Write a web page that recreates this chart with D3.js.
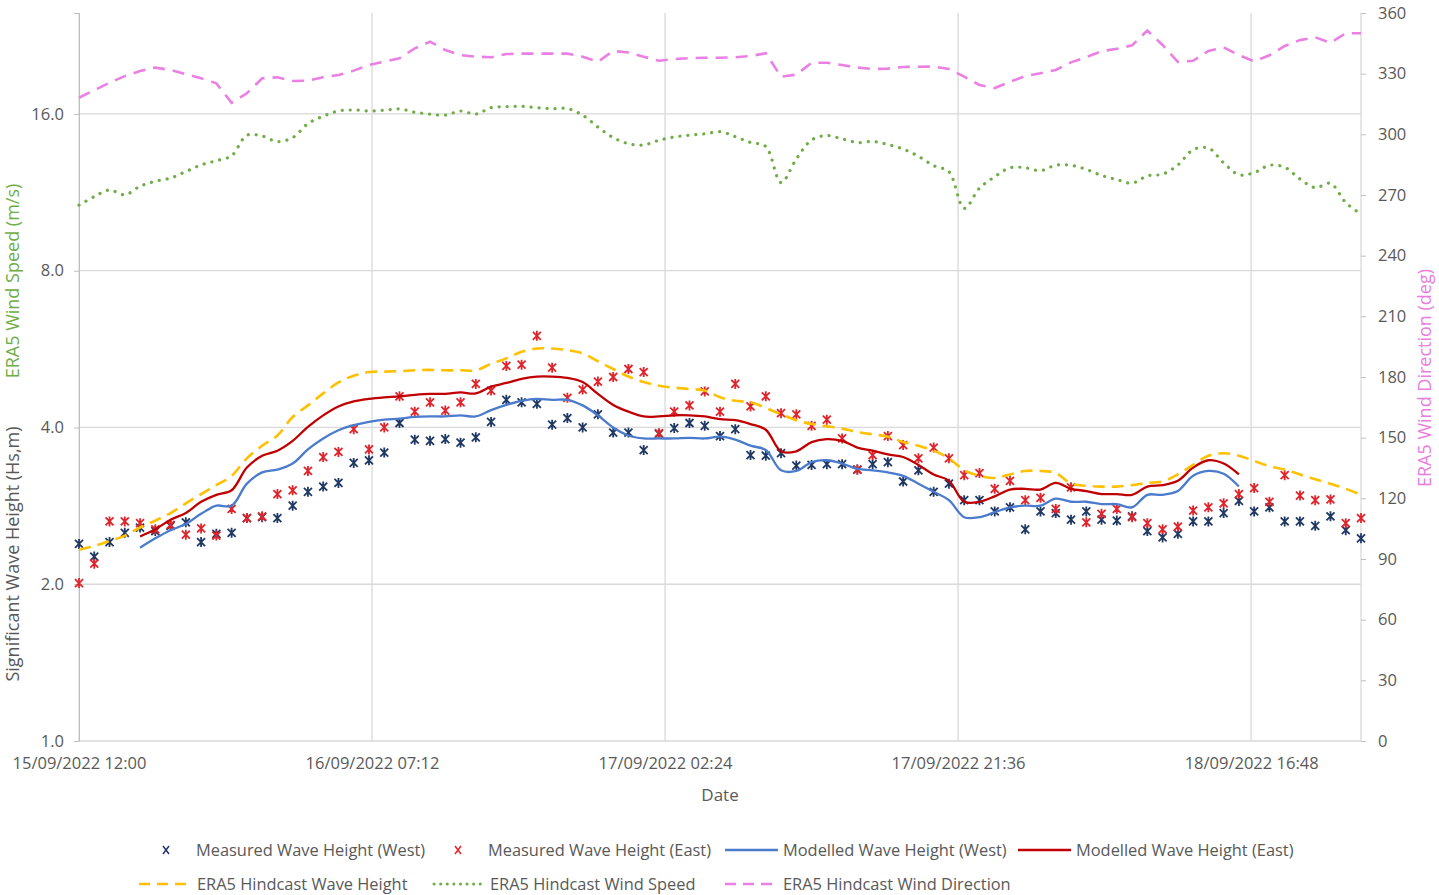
<!DOCTYPE html>
<html>
<head>
<meta charset="utf-8">
<script src="https://cdn.jsdelivr.net/npm/d3@7"></script>
<style>
  html, body { margin: 0; padding: 0; background: #ffffff; }
  svg { display: block; font-family: "Open Sans", "Noto Sans", sans-serif; }
</style>
</head>
<body>
<svg id="chart" width="1439" height="895"></svg>
<script>
// Hourly series, 15/09/2022 12:00 to 19/09/2022 00:00 (85 values each)
const startTime = "2022-09-15T12:00:00";
const endTime = "2022-09-19T00:00:00";

const measuredWest = [
  2.39, 2.26, 2.41, 2.51, 2.57, 2.53, 2.59, 2.63, 2.41, 2.50,
  2.51, 2.68, 2.69, 2.68, 2.83, 3.01, 3.08, 3.13, 3.42, 3.46,
  3.58, 4.08, 3.79, 3.77, 3.80, 3.74, 3.83, 4.10, 4.52, 4.47,
  4.44, 4.05, 4.17, 4.00, 4.24, 3.91, 3.91, 3.62, 3.89, 3.99,
  4.08, 4.03, 3.85, 3.97, 3.54, 3.53, 3.57, 3.38, 3.39, 3.40,
  3.40, 3.32, 3.40, 3.43, 3.15, 3.31, 3.01, 3.12, 2.90, 2.90,
  2.76, 2.81, 2.55, 2.76, 2.74, 2.66, 2.76, 2.66, 2.65, 2.70,
  2.53, 2.46, 2.50, 2.64, 2.64, 2.74, 2.89, 2.76, 2.81, 2.64,
  2.64, 2.59, 2.70, 2.54, 2.45
];

const measuredEast = [
  2.01, 2.19, 2.64, 2.64, 2.62, 2.55, 2.60, 2.49, 2.56, 2.48,
  2.79, 2.68, 2.70, 2.98, 3.03, 3.30, 3.51, 3.59, 3.97, 3.63,
  4.00, 4.59, 4.29, 4.47, 4.31, 4.47, 4.85, 4.71, 5.25, 5.28,
  6.00, 5.21, 4.56, 4.73, 4.90, 5.00, 5.18, 5.11, 3.90, 4.29,
  4.41, 4.69, 4.29, 4.85, 4.39, 4.59, 4.26, 4.24, 4.03, 4.14,
  3.81, 3.32, 3.54, 3.85, 3.70, 3.49, 3.66, 3.49, 3.24, 3.27,
  3.05, 3.16, 2.90, 2.93, 2.79, 3.07, 2.63, 2.73, 2.79, 2.69,
  2.62, 2.55, 2.58, 2.77, 2.81, 2.86, 2.98, 3.06, 2.88, 3.24,
  2.96, 2.90, 2.91, 2.62, 2.68
];

const modelledWest = [
  null, null, null, null, 2.35, 2.45, 2.54, 2.61, 2.73, 2.83,
  2.83, 3.12, 3.28, 3.32, 3.41, 3.63, 3.81, 3.95, 4.04, 4.10,
  4.14, 4.16, 4.19, 4.20, 4.20, 4.22, 4.20, 4.32, 4.42, 4.50,
  4.54, 4.52, 4.52, 4.41, 4.22, 4.00, 3.86, 3.81, 3.81, 3.81,
  3.82, 3.81, 3.84, 3.79, 3.69, 3.62, 3.31, 3.30, 3.43, 3.46,
  3.41, 3.33, 3.31, 3.28, 3.23, 3.12, 3.01, 2.90, 2.69, 2.69,
  2.75, 2.81, 2.83, 2.83, 2.92, 2.88, 2.88, 2.85, 2.85, 2.81,
  2.97, 2.97, 3.02, 3.23, 3.30, 3.26, 3.08, null, null, null,
  null, null, null, null, null
];

const modelledEast = [
  null, null, null, null, 2.47, 2.55, 2.66, 2.74, 2.88, 2.97,
  3.03, 3.35, 3.53, 3.61, 3.77, 4.01, 4.22, 4.39, 4.49, 4.54,
  4.57, 4.59, 4.62, 4.64, 4.64, 4.67, 4.65, 4.79, 4.87, 4.96,
  5.01, 5.01, 4.98, 4.89, 4.64, 4.42, 4.29, 4.20, 4.20, 4.22,
  4.22, 4.20, 4.15, 4.13, 4.06, 3.96, 3.60, 3.60, 3.75, 3.80,
  3.77, 3.66, 3.61, 3.55, 3.51, 3.39, 3.25, 3.16, 2.88, 2.88,
  2.95, 3.04, 3.05, 3.04, 3.13, 3.05, 3.02, 2.98, 2.98, 2.97,
  3.08, 3.10, 3.16, 3.35, 3.46, 3.41, 3.25, null, null, null,
  null, null, null, null, null
];

const era5WaveHeight = [
  2.33, 2.37, 2.42, 2.48, 2.57, 2.65, 2.74, 2.86, 2.98, 3.10,
  3.23, 3.49, 3.69, 3.86, 4.19, 4.41, 4.65, 4.88, 5.03, 5.11,
  5.12, 5.13, 5.15, 5.16, 5.15, 5.15, 5.15, 5.30, 5.43, 5.59,
  5.67, 5.67, 5.63, 5.55, 5.36, 5.18, 5.01, 4.89, 4.81, 4.77,
  4.74, 4.71, 4.57, 4.50, 4.47, 4.36, 4.24, 4.13, 4.06, 4.02,
  3.98, 3.92, 3.88, 3.84, 3.75, 3.69, 3.61, 3.49, 3.31, 3.23,
  3.20, 3.25, 3.30, 3.30, 3.27, 3.12, 3.09, 3.08, 3.08, 3.10,
  3.13, 3.15, 3.25, 3.39, 3.53, 3.57, 3.53, 3.45, 3.37, 3.32,
  3.25, 3.18, 3.12, 3.05, 2.97
];

const era5WindSpeed = [
  10.69, 11.10, 11.43, 11.19, 11.62, 11.88, 12.05, 12.40, 12.77, 13.01,
  13.30, 14.56, 14.51, 14.16, 14.41, 15.33, 15.84, 16.21, 16.28, 16.21,
  16.26, 16.36, 16.12, 15.99, 15.91, 16.21, 15.99, 16.45, 16.52, 16.55,
  16.45, 16.38, 16.38, 15.91, 15.10, 14.41, 14.03, 13.95, 14.24, 14.45,
  14.56, 14.65, 14.79, 14.47, 14.10, 13.85, 11.81, 13.11, 14.26, 14.54,
  14.33, 14.10, 14.16, 13.98, 13.70, 13.27, 12.73, 12.39, 10.54, 11.52,
  12.12, 12.61, 12.61, 12.45, 12.75, 12.75, 12.52, 12.19, 11.97, 11.78,
  12.17, 12.26, 12.77, 13.66, 13.76, 12.89, 12.23, 12.34, 12.75, 12.64,
  12.00, 11.55, 11.77, 10.81, 10.28
];

const era5WindDirection = [
  318.1, 321.8, 325.5, 328.8, 331.3, 333.0, 331.8, 329.8, 327.7, 325.2,
  315.6, 320.3, 327.7, 328.2, 326.4, 326.5, 328.2, 329.3, 331.5, 334.3,
  335.9, 337.6, 342.5, 345.8, 341.7, 339.2, 338.4, 338.1, 339.7, 339.9,
  339.9, 339.9, 339.9, 338.4, 335.9, 341.2, 340.5, 338.4, 336.4, 337.2,
  337.7, 337.9, 337.9, 338.1, 338.7, 340.1, 328.5, 329.5, 335.4, 335.4,
  334.3, 333.0, 332.3, 332.5, 333.3, 333.4, 333.5, 332.3, 328.5, 324.4,
  322.9, 326.0, 328.8, 330.2, 331.8, 335.6, 338.2, 341.1, 342.3, 344.0,
  351.3, 344.2, 335.8, 336.4, 341.2, 343.0, 339.2, 336.1, 339.1, 343.7,
  346.6, 348.0, 345.3, 350.0, 350.0
];

const xTickLabels = ["15/09/2022 12:00", "16/09/2022 07:12", "17/09/2022 02:24", "17/09/2022 21:36", "18/09/2022 16:48"];
const leftTickValues = [1, 2, 4, 8, 16];
const rightTickValues = [0, 30, 60, 90, 120, 150, 180, 210, 240, 270, 300, 330, 360];

// ---- setup ----
const svg = d3.select("#chart");
const plot = { left: 79, right: 1361, top: 13, bottom: 741 };
const axisGrey = "#595959";
const gridGrey = "#d9d9d9";
const tickFont = "16.5px";
const titleFont = "18px";

const parseTick = d3.timeParse("%d/%m/%Y %H:%M");
const t0 = new Date(startTime), t1 = new Date(endTime);
const times = d3.timeHour.range(t0, d3.timeHour.offset(t1, 1));

const x = d3.scaleTime().domain([t0, t1]).range([plot.left, plot.right]);
const yLeft = d3.scaleLog().base(2).domain([1, 25]).range([plot.bottom, plot.top]);
const yRight = d3.scaleLinear().domain([0, 360]).range([plot.bottom, plot.top]);

// gridlines
const grid = svg.append("g");
grid.selectAll("line.h").data(leftTickValues).join("line")
  .attr("x1", plot.left).attr("x2", plot.right)
  .attr("y1", d => yLeft(d)).attr("y2", d => yLeft(d))
  .attr("stroke", gridGrey).attr("stroke-width", 1.3);
grid.selectAll("line.v").data(xTickLabels.map(parseTick)).join("line")
  .attr("x1", d => x(d)).attr("x2", d => x(d))
  .attr("y1", plot.top).attr("y2", plot.bottom)
  .attr("stroke", gridGrey).attr("stroke-width", 1.3);
// right axis line
svg.append("line").attr("x1", plot.right).attr("x2", plot.right)
  .attr("y1", plot.top).attr("y2", plot.bottom)
  .attr("stroke", gridGrey).attr("stroke-width", 1.3);

// left axis
const leftAxis = d3.axisLeft(yLeft).tickValues(leftTickValues)
  .tickFormat(d3.format(".1f")).tickSize(5).tickPadding(10);
const gL = svg.append("g").attr("transform", `translate(${plot.left},0)`).call(leftAxis);
gL.select(".domain").attr("stroke", "#bfbfbf");
gL.selectAll(".tick line").attr("stroke", "#bfbfbf");
gL.selectAll("text").attr("fill", axisGrey).style("font-size", tickFont)
  .style("font-family", "'Open Sans', sans-serif");

// right axis
const rightAxis = d3.axisRight(yRight).tickValues(rightTickValues).tickSize(5).tickPadding(12);
const gR = svg.append("g").attr("transform", `translate(${plot.right},0)`).call(rightAxis);
gR.select(".domain").remove();
gR.selectAll(".tick line").attr("stroke", "#bfbfbf");
gR.selectAll("text").attr("fill", axisGrey).style("font-size", tickFont)
  .style("font-family", "'Open Sans', sans-serif");

// bottom axis labels
const bottomAxis = d3.axisBottom(x).tickValues(xTickLabels.map(parseTick))
  .tickFormat((d, i) => xTickLabels[i]).tickSize(0).tickPadding(16);
const gB = svg.append("g").attr("transform", `translate(0,${plot.bottom})`).call(bottomAxis);
gB.select(".domain").remove();
gB.selectAll("text").attr("fill", axisGrey).style("font-size", tickFont)
  .style("font-family", "'Open Sans', sans-serif");

// axis titles
svg.append("text").attr("x", 720).attr("y", 801).attr("text-anchor", "middle")
  .attr("fill", axisGrey).style("font-size", "17px").text("Date");
svg.append("text").attr("transform", "translate(19,554) rotate(-90)")
  .attr("text-anchor", "middle").attr("fill", axisGrey).style("font-size", titleFont)
  .text("Significant Wave Height (Hs,m)");
svg.append("text").attr("transform", "translate(19,281) rotate(-90)")
  .attr("text-anchor", "middle").attr("fill", "#70ad47").style("font-size", titleFont)
  .text("ERA5 Wind Speed (m/s)");
svg.append("text").attr("transform", "translate(1431,378) rotate(-90)")
  .attr("text-anchor", "middle").attr("fill", "#e97ee0").style("font-size", titleFont)
  .text("ERA5 Wind Direction (deg)");

// ---- series ----
const colors = {
  mWest: "#1f3864", mEast: "#e0242b", modWest: "#4a7bcc", modEast: "#c00000",
  era5Wave: "#ffc000", wind: "#70ad47", dir: "#ea80e3"
};

const starPath = "M-4,-4L4,4M-4,4L4,-4M0,-5L0,5";

function drawMarkers(values, color) {
  svg.append("g").selectAll("path")
    .data(values.map((v, i) => ({ t: times[i], v })).filter(d => d.v != null))
    .join("path")
    .attr("transform", d => `translate(${x(d.t)},${yLeft(d.v)})`)
    .attr("d", starPath)
    .attr("stroke", color).attr("stroke-width", 1.8).attr("fill", "none");
}

function drawLine(values, yScale, color, width, dash, curve) {
  const line = d3.line()
    .defined(d => d.v != null)
    .x(d => x(d.t)).y(d => yScale(d.v))
    .curve(curve);
  const p = svg.append("path")
    .datum(values.map((v, i) => ({ t: times[i], v })))
    .attr("d", line)
    .attr("fill", "none").attr("stroke", color).attr("stroke-width", width);
  if (dash) p.attr("stroke-dasharray", dash);
  return p;
}

drawMarkers(measuredWest, colors.mWest);
drawMarkers(measuredEast, colors.mEast);
drawLine(modelledWest, yLeft, colors.modWest, 2.3, null, d3.curveCatmullRom);
drawLine(modelledEast, yLeft, colors.modEast, 2.3, null, d3.curveCatmullRom);
drawLine(era5WaveHeight, yLeft, colors.era5Wave, 2.6, "12,7", d3.curveCatmullRom);
drawLine(era5WindSpeed, yLeft, colors.wind, 3.2, "0.1,7.9", d3.curveCatmullRom)
  .attr("stroke-linecap", "round");
drawLine(era5WindDirection, yRight, colors.dir, 2.6, "12,8", d3.curveLinear);

// ---- legend ----
const legend = svg.append("g").style("font-size", "16.4px");
const legendItems = [
  { type: "marker", color: colors.mWest, label: "Measured Wave Height (West)", x: 160, y: 850 },
  { type: "marker", color: colors.mEast, label: "Measured Wave Height (East)", x: 452, y: 850 },
  { type: "line", color: colors.modWest, label: "Modelled Wave Height (West)", x: 725, y: 850 },
  { type: "line", color: colors.modEast, label: "Modelled Wave Height (East)", x: 1018, y: 850 },
  { type: "dash", color: colors.era5Wave, label: "ERA5 Hindcast Wave Height", x: 139, y: 884 },
  { type: "dot", color: colors.wind, label: "ERA5 Hindcast Wind Speed", x: 432, y: 884 },
  { type: "dash", color: colors.dir, label: "ERA5 Hindcast Wind Direction", x: 725, y: 884 }
];
legendItems.forEach(it => {
  const g = legend.append("g").attr("transform", `translate(${it.x},${it.y})`);
  if (it.type === "marker") {
    g.append("path").attr("transform", "translate(6,0)").attr("d", "M-3,-4L3,4M-3,4L3,-4")
      .attr("stroke", it.color).attr("stroke-width", 1.5);
    g.append("text").attr("x", 36).attr("y", 6).attr("fill", axisGrey).text(it.label);
  } else {
    const seg = g.append("line").attr("x1", 0).attr("x2", 53).attr("y1", 0).attr("y2", 0)
      .attr("stroke", it.color);
    if (it.type === "line") seg.attr("stroke-width", 2.3);
    if (it.type === "dash") seg.attr("stroke-width", 2.6).attr("stroke-dasharray", "11,7");
    if (it.type === "dot") seg.attr("stroke-width", 3).attr("stroke-dasharray", "0.1,6.5")
      .attr("stroke-linecap", "round").attr("x1", 2);
    g.append("text").attr("x", 58).attr("y", 6).attr("fill", axisGrey).text(it.label);
  }
});
</script>
</body>
</html>
